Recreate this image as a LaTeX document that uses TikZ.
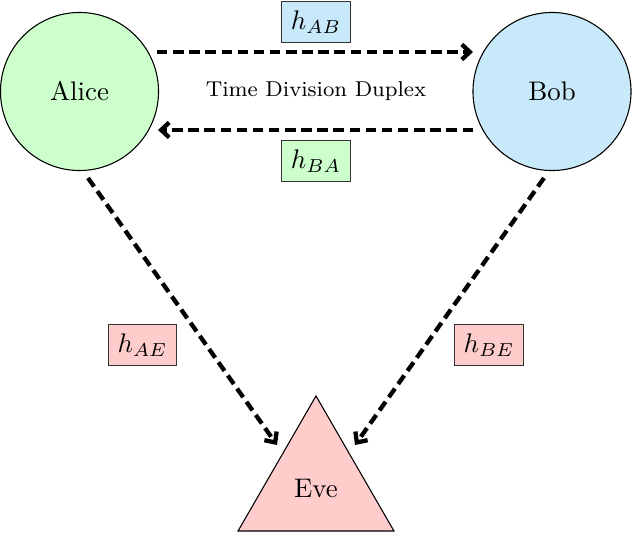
\documentclass[tikz,border=0pt]{standalone}
\usetikzlibrary{shapes.geometric,arrows.meta}
\definecolor{alicegreen}{RGB}{204,255,204}
\definecolor{bobblue}{RGB}{199,233,249}
\definecolor{evepink}{RGB}{255,204,204}
\tikzset{
  party/.style={circle,draw=black,line width=0.4pt,minimum size=58.8pt,inner sep=0pt},
  chan/.style={rectangle,draw=black!80,line width=0.5pt,inner sep=3.5pt},
  link/.style={-{Straight Barb[length=3pt,width=5.6pt]},line width=1.6pt,dash pattern=on 3.9pt off 2.1pt},
}
\begin{document}
\begin{tikzpicture}[x=0.372pt,y=-0.372pt]
\useasboundingbox (0,0) rectangle (632,532);
\node[party,fill=alicegreen] (alice) at (79.5,91.5) {Alice};
\node[party,fill=bobblue] (bob) at (552,91.5) {Bob};
\node[regular polygon,regular polygon sides=3,minimum size=67pt,inner sep=0pt,draw=black,line width=0.4pt,fill=evepink] (eve) at (316,486) {};
\node (evetext) at (316,488) {Eve};
\node[font=\footnotesize] (tdd) at (316,91) {Time Division Duplex};
\node[chan,fill=bobblue] (hab) at (316,22) {$h_{AB}$};
\node[chan,fill=alicegreen] (hba) at (316,161) {$h_{BA}$};
\node[chan,fill=evepink] (hae) at (142.5,345) {$h_{AE}$};
\node[chan,fill=evepink] (hbe) at (489,345) {$h_{BE}$};
\coordinate (a1) at (157,52);
\coordinate (b1) at (473,52);
\coordinate (b2) at (473,130);
\coordinate (a2) at (158,130);
\coordinate (a3) at (88,178);
\coordinate (e1) at (277,445);
\coordinate (b3) at (544,178);
\coordinate (e2) at (355,445);
\draw[link] (a1) -- (b1);
\draw[link] (b2) -- (a2);
\draw[link] (a3) -- (e1);
\draw[link] (b3) -- (e2);
\end{tikzpicture}
\end{document}
